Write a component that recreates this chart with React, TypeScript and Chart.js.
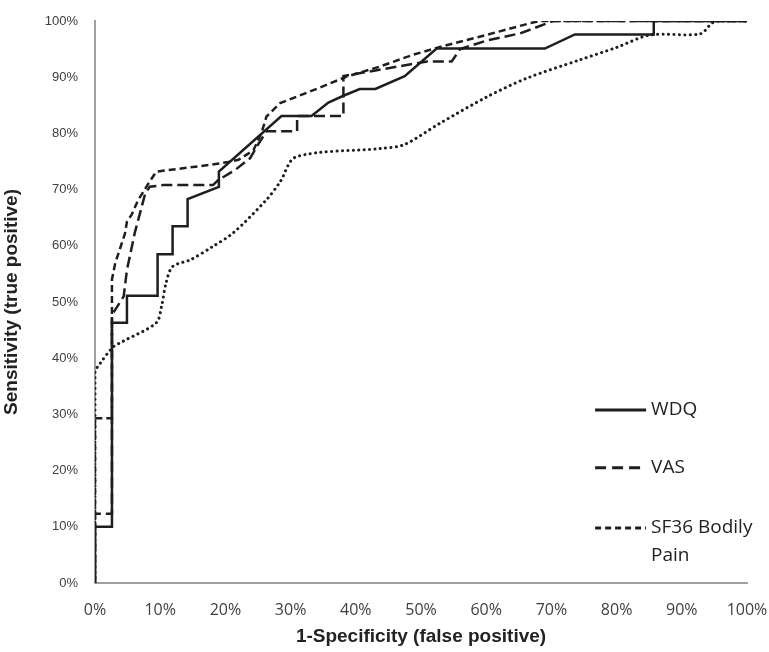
import React, { useEffect, useRef } from "react";
import { Chart, registerables } from "chart.js";

Chart.register(...registerables);

// ---- data (percent) ----
const X_TICKS_STEP = 10;
const X_TITLE = "1-Specificity (false positive)";
const Y_TITLE = "Sensitivity (true positive)";

const wdqX = [0, 0, 2.6, 2.6, 4.9, 4.9, 9.6, 9.6, 11.9, 11.9, 14.2, 14.2, 19.0, 19.0, 28.6, 33.2, 35.8, 38.1, 40.6, 43.0, 47.5, 52.4, 69.0, 73.6, 85.7, 85.7, 100];
const wdqY = [0, 10, 10, 46.3, 46.3, 51.1, 51.1, 58.5, 58.5, 63.5, 63.5, 68.3, 70.5, 73.2, 83.1, 83.1, 85.5, 86.7, 87.9, 87.9, 90.2, 95.1, 95.1, 97.6, 97.6, 100, 100];

const vasX = [0, 0, 2.6, 2.6, 4.4, 4.9, 6.1, 7.7, 8.4, 10.5, 18.1, 18.9, 21.5, 23.8, 25.0, 26.3, 31.0, 31.0, 38.1, 38.1, 43.0, 50.9, 54.7, 56.0, 60.0, 65.2, 70.3, 100];
const vasY = [0, 12.3, 12.3, 47.7, 51.0, 55.7, 62.3, 69.3, 70.5, 70.8, 70.8, 71.7, 73.5, 75.6, 78.0, 80.4, 80.4, 83.1, 83.1, 90.2, 91.2, 92.8, 92.8, 95.0, 96.5, 97.8, 100, 100];

const sf36X = [0, 0, 2.6, 2.6, 3.1, 4.6, 4.9, 5.6, 6.6, 8.2, 9.4, 17.6, 20.4, 22.0, 24.3, 25.6, 26.3, 28.4, 33.5, 38.6, 43.7, 48.8, 53.9, 59.0, 66.7, 68.3, 100];
const sf36Y = [0, 29.3, 29.3, 54.0, 56.9, 62.2, 64.3, 65.5, 68.1, 71.1, 73.2, 74.4, 74.9, 75.3, 77.0, 80.3, 83.0, 85.4, 87.7, 90.1, 91.9, 94.0, 95.7, 97.2, 99.6, 100, 100];

const otherX = [0, 0, 0.8, 2.8, 4.3, 9.4, 10.2, 10.9, 11.9, 14.6, 18.1, 21.2, 26.3, 28.4, 30.8, 43.7, 47.4, 52.9, 60.1, 66.2, 74.4, 80.0, 85.1, 92.8, 94.6, 95.5, 100];
const otherY = [0, 37.4, 39.1, 42.0, 43.0, 46.3, 49.2, 53.4, 56.3, 57.5, 59.9, 62.3, 68.2, 71.4, 75.8, 77.3, 78.0, 81.8, 86.5, 89.8, 93.1, 95.3, 97.5, 97.7, 99.6, 100, 100];

const SERIES_LABELS = ["WDQ", "VAS", "SF36 Bodily Pain", "Other"];

const pts = (xs: number[], ys: number[]) => xs.map((x, i) => ({ x, y: ys[i] }));

const LINE = "#1e1e1e";

const sideLegend = {
  id: "sideLegend",
  afterDraw(chart: any) {
    const ctx = chart.ctx as CanvasRenderingContext2D;
    const area = chart.chartArea;
    const w = area.right - area.left;
    const h = area.bottom - area.top;
    const x0 = area.left + w * 0.767;
    const lineLen = 51;
    const tx = x0 + lineLen + 5;
    const rows = [0.692, 0.795, 0.902];
    ctx.save();
    ctx.font = "19px 'Open Sans'";
    ctx.textBaseline = "middle";
    ctx.fillStyle = "#222";
    let r = 0;
    chart.data.datasets.forEach((ds: any) => {
      if (ds.noLegend) return;
      const y = area.top + h * rows[r++];
      ctx.save();
      ctx.strokeStyle = ds.borderColor;
      ctx.lineWidth = 3;
      ctx.setLineDash(ds.legendDash || []);
      ctx.beginPath();
      ctx.moveTo(x0, y);
      ctx.lineTo(x0 + lineLen, y);
      ctx.stroke();
      ctx.restore();
      const words = String(ds.label).split(" ");
      const lines: string[] = [];
      let cur = "";
      words.forEach((wd) => {
        const t = cur ? cur + " " + wd : wd;
        if (ctx.measureText(t).width > chart.width - tx - 4 && cur) {
          lines.push(cur);
          cur = wd;
        } else cur = t;
      });
      if (cur) lines.push(cur);
      lines.forEach((ln, i) => ctx.fillText(ln, tx, y + i * 28));
    });
    ctx.restore();
  },
};

export default function App() {
  const ref = useRef<HTMLCanvasElement | null>(null);
  useEffect(() => {
    document.body.style.margin = "0";
    const chart = new Chart(ref.current as HTMLCanvasElement, {
      type: "line",
      data: {
        datasets: [
          {
            label: SERIES_LABELS[0],
            data: pts(wdqX, wdqY),
            borderColor: LINE,
            borderWidth: 2.5,
            pointRadius: 0,
            tension: 0,
            legendDash: [],
          } as any,
          {
            label: SERIES_LABELS[1],
            data: pts(vasX, vasY),
            borderColor: LINE,
            borderWidth: 2.5,
            borderDash: [11, 5],
            legendDash: [11, 6],
            pointRadius: 0,
            tension: 0,
          } as any,
          {
            label: SERIES_LABELS[2],
            data: pts(sf36X, sf36Y),
            borderColor: LINE,
            borderWidth: 2.5,
            borderDash: [7, 4],
            legendDash: [6, 4],
            pointRadius: 0,
            tension: 0,
          } as any,
          {
            label: SERIES_LABELS[3],
            data: pts(otherX, otherY),
            borderColor: LINE,
            borderWidth: 3,
            borderDash: [0.1, 5.3],
            borderCapStyle: "round",
            pointRadius: 0,
            tension: 0.3,
            noLegend: true,
          } as any,
        ],
      },
      options: {
        animation: false,
        responsive: false,
        maintainAspectRatio: false,
        devicePixelRatio: 1,
        layout: { padding: { top: 21, right: 22, left: 0, bottom: 0 } },
        plugins: { legend: { display: false }, tooltip: { enabled: false } },
        scales: {
          x: {
            type: "linear",
            min: 0,
            max: 100,
            afterFit: (s: any) => {
              s.height = 69;
              s.paddingLeft = 0;
              s.paddingRight = 0;
            },
            ticks: {
              stepSize: X_TICKS_STEP,
              callback: (v: any) => v + "%",
              font: { family: "'Open Sans'", size: 16 },
              color: "#404040",
              padding: 18,
              maxRotation: 0,
            },
            grid: { display: true, drawOnChartArea: false, drawTicks: false },
            border: { color: "#a0a0a0", width: 2 },
            title: {
              display: true,
              text: X_TITLE,
              font: { family: "'Liberation Sans Narrow', 'Liberation Sans'", weight: "bold", size: 19 },
              color: "#222",
              padding: { top: 0, bottom: 4 },
            },
          },
          y: {
            type: "linear",
            min: 0,
            max: 100,
            afterFit: (s: any) => {
              s.width = 95;
              s.paddingTop = 0;
              s.paddingBottom = 0;
            },
            ticks: {
              stepSize: 10,
              callback: (v: any) => v + "%",
              font: { family: "'Liberation Sans'", size: 13 },
              color: "#404040",
              padding: 17,
            },
            grid: { display: true, drawOnChartArea: false, drawTicks: false },
            border: { color: "#a0a0a0", width: 2 },
            title: {
              display: true,
              text: Y_TITLE,
              font: { family: "'Liberation Sans Narrow', 'Liberation Sans'", weight: "bold", size: 19 },
              color: "#222",
              padding: { top: 0, bottom: 22 },
            },
          },
        },
      },
      plugins: [sideLegend],
    });
    return () => chart.destroy();
  }, []);
  return <canvas ref={ref} width={769} height={652} style={{ display: "block" }} />;
}
